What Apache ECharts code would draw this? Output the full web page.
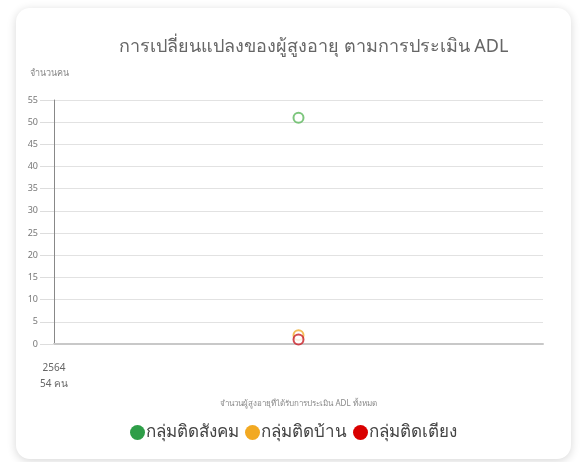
<!DOCTYPE html>
<html>
<head>
<meta charset="utf-8">
<script src="https://cdn.jsdelivr.net/npm/echarts@6/dist/echarts.min.js"></script>
<style>
  html, body { margin: 0; padding: 0; background: #ffffff; width: 583px; height: 462px; overflow: hidden; }
  #card {
    position: absolute; left: 16px; top: 8px; width: 555px; height: 451px;
    background: #fff; border-radius: 14px;
    box-shadow: 0 2px 10px rgba(0,0,0,0.16);
  }
  #chart { width: 555px; height: 451px; }
</style>
</head>
<body>
<div id="card"><div id="chart"></div></div>
<script>
// Assessment years and total assessed people per year
const years = ['2564'];
const totals = [54];
const yTicks = { min: 0, max: 55, step: 5 };

// Counts per ADL group
const socialGroup = [51];   // กลุ่มติดสังคม
const homeGroup = [2];      // กลุ่มติดบ้าน
const bedGroup = [1];       // กลุ่มติดเตียง

const seriesNames = ['กลุ่มติดสังคม', 'กลุ่มติดบ้าน', 'กลุ่มติดเตียง'];
const seriesColors = ['#5cb85c', '#f0ad2e', '#c81d25'];
const legendColors = ['#2e9e48', '#f2a922', '#d90000'];

const font = '"Noto Sans", "DejaVu Sans", sans-serif';
const chart = echarts.init(document.getElementById('chart'));

function pointSeries(i, data) {
  return {
    name: seriesNames[i],
    type: 'scatter',
    xAxisIndex: 0,
    data: data,
    symbol: 'circle',
    symbolSize: 10,
    itemStyle: { color: '#ffffff', borderColor: seriesColors[i], borderWidth: 2 },
    z: 10 + i
  };
}

chart.setOption({
  animation: false,
  title: {
    text: 'การเปลี่ยนแปลงของผู้สูงอายุ ตามการประเมิน ADL',
    left: 98, top: 25,
    textStyle: { fontFamily: font, fontSize: 18, fontWeight: 'normal', color: '#666' }
  },
  legend: {
    bottom: 13, left: 'center',
    itemGap: 6,
    itemWidth: 15, itemHeight: 15,
    icon: 'circle',
    itemStyle: { borderWidth: 0, opacity: 1 },
    data: seriesNames.map((n, i) => ({
      name: n,
      itemStyle: { color: legendColors[i], borderColor: legendColors[i], borderWidth: 0, opacity: 1 }
    })),
    textStyle: { fontFamily: font, fontSize: 17, color: '#444', padding: [0, 0, 0, -4] }
  },
  grid: { left: 38, right: 28, top: 92, bottom: 115 },
  xAxis: [
    {
      type: 'category',
      data: years,
      boundaryGap: true,
      axisLine: { show: true, lineStyle: { color: '#c8c8c8', width: 2 } },
      axisTick: { show: false },
      axisLabel: { show: false },
      splitLine: { show: false },
      name: 'จำนวนผู้สูงอายุที่ได้รับการประเมิน ADL ทั้งหมด',
      nameLocation: 'middle',
      nameGap: 56,
      nameTextStyle: { fontFamily: font, fontSize: 8, color: '#888' }
    },
    {
      type: 'category',
      position: 'bottom',
      data: years.map((y, i) => y + '\n' + totals[i] + ' คน').concat(['']),
      boundaryGap: false,
      axisLine: { show: false },
      axisTick: { show: false },
      axisLabel: { show: true, margin: 16, lineHeight: 16, fontFamily: font, fontSize: 10, color: '#666' },
      splitLine: { show: false }
    }
  ],
  yAxis: {
    type: 'value',
    min: yTicks.min, max: yTicks.max, interval: yTicks.step,
    name: 'จำนวนคน',
    nameLocation: 'end',
    nameGap: 22,
    nameTextStyle: { fontFamily: font, fontSize: 9, color: '#888', align: 'left', padding: [0, 0, 0, -24] },
    axisLine: { show: true, onZero: false, lineStyle: { color: '#888', width: 1 } },
    axisTick: { show: true, length: 14, lineStyle: { color: '#dddddd' } },
    axisLabel: { fontFamily: font, fontSize: 9, color: '#777', margin: 16 },
    splitLine: { show: true, lineStyle: { color: '#e2e2e2', width: 1 } }
  },
  series: [
    pointSeries(0, socialGroup),
    pointSeries(1, homeGroup),
    pointSeries(2, bedGroup)
  ]
});
</script>
</body>
</html>
